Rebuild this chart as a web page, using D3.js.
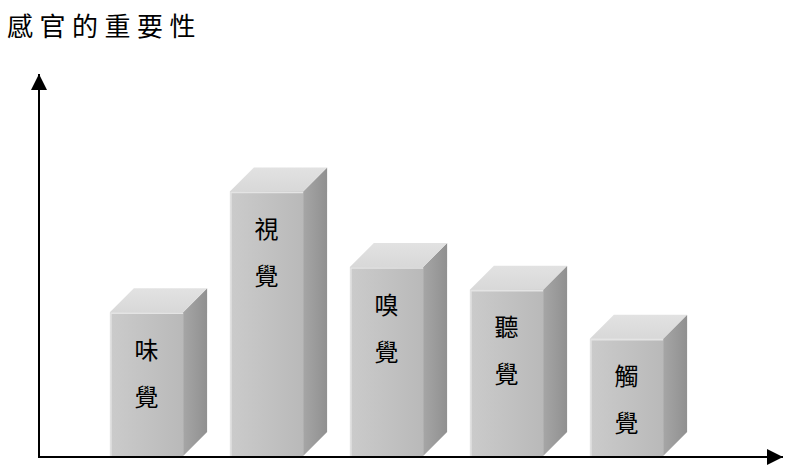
<!DOCTYPE html>
<html>
<head>
<meta charset="utf-8">
<script src="https://cdn.jsdelivr.net/npm/d3@7"></script>
<style>
  body { margin: 0; background: #fff; }
  svg { display: block; }
  text { font-family: "Noto Sans CJK TC", "Noto Sans CJK SC", sans-serif; fill: #000; }
</style>
</head>
<body>
<div id="root"></div>
<script>
const width = 787;
const height = 474;

const categories = ["味覺", "視覺", "嗅覺", "聽覺", "觸覺"];
const values = [38, 70, 50, 44, 31];
const title = "感官的重要性";

const baseY = 456;
const depth = 24;

const svg = d3.select("#root").append("svg")
  .attr("width", width)
  .attr("height", height);

const defs = svg.append("defs");

function grad(id, c0, c1, vertical) {
  const g = defs.append("linearGradient").attr("id", id)
    .attr("x1", 0).attr("y1", 0)
    .attr("x2", vertical ? 0 : 1).attr("y2", vertical ? 1 : 0);
  g.append("stop").attr("offset", "0%").attr("stop-color", c0);
  g.append("stop").attr("offset", "100%").attr("stop-color", c1);
}
grad("front", "#cbcbcb", "#b9b9b9");
grad("top", "#e2e2e2", "#d8d8d8", true);
grad("side", "#a6a6a6", "#909090");

const x = d3.scaleBand()
  .domain(categories)
  .range([86.5, 686.5])
  .paddingInner(0.39)
  .paddingOuter(0.195);

const y = d3.scaleLinear()
  .domain([0, 100])
  .range([baseY, 78]);

// title
svg.append("text")
  .attr("x", 7)
  .attr("y", 36)
  .attr("font-size", 26)
  .attr("letter-spacing", 6.5)
  .text(title);

const bars = svg.selectAll("g.bar")
  .data(categories.map((c, i) => ({ name: c, value: values[i] })))
  .enter()
  .append("g")
  .attr("class", "bar");

// side face
bars.append("path")
  .attr("fill", "url(#side)")
  .attr("d", d => {
    const x1 = x(d.name) + x.bandwidth();
    const t = y(d.value);
    return `M${x1},${t}L${x1 + depth},${t - depth}L${x1 + depth},${baseY - depth}L${x1},${baseY}Z`;
  });

// top face
bars.append("path")
  .attr("fill", "url(#top)")
  .attr("d", d => {
    const x0 = x(d.name), x1 = x0 + x.bandwidth();
    const t = y(d.value);
    return `M${x0},${t}L${x0 + depth},${t - depth}L${x1 + depth},${t - depth}L${x1},${t}Z`;
  });

// front face
bars.append("rect")
  .attr("x", d => x(d.name))
  .attr("y", d => y(d.value))
  .attr("width", x.bandwidth())
  .attr("height", d => baseY - y(d.value))
  .attr("fill", "url(#front)");

// light edge on front face
bars.append("path")
  .attr("fill", "none")
  .attr("stroke", "#e4e4e4")
  .attr("stroke-width", 1.5)
  .attr("d", d => {
    const x0 = x(d.name) + 1, x1 = x(d.name) + x.bandwidth();
    const t = y(d.value) + 1;
    return `M${x0},${baseY}L${x0},${t}L${x1},${t}`;
  });

// vertical labels
bars.selectAll("text")
  .data(d => d.name.split("").map((ch, j) => ({ ch, j, d })))
  .enter()
  .append("text")
  .attr("x", d => x(d.d.name) + x.bandwidth() / 2)
  .attr("y", d => y(d.d.value) + 36 + d.j * 47)
  .attr("text-anchor", "middle")
  .attr("dominant-baseline", "central")
  .attr("font-size", 24)
  .text(d => d.ch);

// axes with arrows
defs.append("marker")
  .attr("id", "arrow")
  .attr("viewBox", "0 0 10 10")
  .attr("refX", 10).attr("refY", 5)
  .attr("markerWidth", 8).attr("markerHeight", 8)
  .attr("markerUnits", "strokeWidth")
  .attr("orient", "auto")
  .append("path")
  .attr("d", "M0,0L10,5L0,10Z")
  .attr("fill", "#000");

svg.append("line")
  .attr("x1", 39).attr("y1", baseY + 1)
  .attr("x2", 39).attr("y2", 74)
  .attr("stroke", "#000").attr("stroke-width", 2)
  .attr("marker-end", "url(#arrow)");

svg.append("line")
  .attr("x1", 38).attr("y1", baseY + 1)
  .attr("x2", 783).attr("y2", baseY + 1)
  .attr("stroke", "#000").attr("stroke-width", 2)
  .attr("marker-end", "url(#arrow)");
</script>
</body>
</html>
